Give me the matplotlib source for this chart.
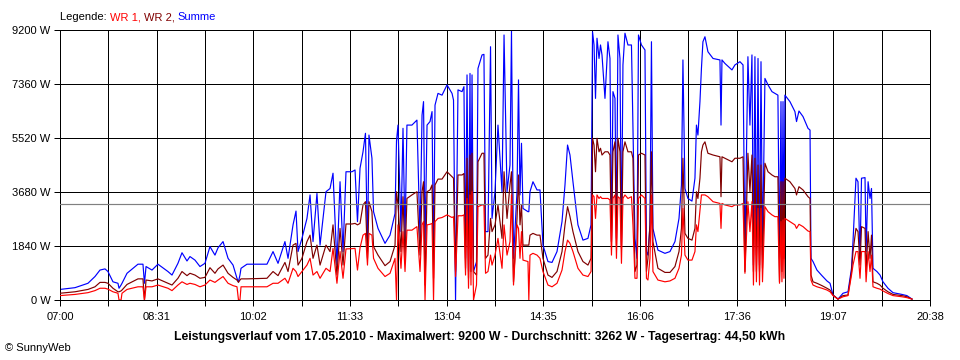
import matplotlib
matplotlib.use("Agg")
import matplotlib.pyplot as plt
import numpy as np

plt.rcParams['font.family'] = ['Liberation Sans', 'DejaVu Sans']

# ---- data: minutes after 07:00, power in W ----
minutes = [
    0, 14.1, 26.3, 32.9, 37.6, 42.3, 45.1, 49.8, 54.5, 55.5,
    57.4, 58.3, 63.0, 73.3, 78.0, 79.4, 80.9, 86.5, 92.1, 101.5,
    105.3, 110.9, 114.7, 119.4, 122.2, 126.9, 131.6, 136.3, 141.0, 145.7,
    148.6, 153.3, 158.0, 162.7, 166.4, 167.8, 169.2, 170.2, 175.8, 194.6,
    200.3, 205.0, 211.5, 214.4, 219.1, 221.9, 223.8, 227.5, 232.2, 235.1,
    237.9, 241.6, 244.5, 250.1, 253.9, 256.7, 260.4, 263.3, 266.1, 268.9,
    274.5, 277.4, 279.7, 282.1, 284.9, 287.2, 289.1, 290.5, 293.3, 294.8,
    299.0, 305.6, 310.3, 315.0, 316.4, 317.8, 320.6, 322.5, 324.4, 326.2,
    330.9, 335.6, 338.5, 340.4, 341.8, 343.2, 345.1, 347.9, 349.8, 351.2,
    352.6, 355.4, 359.2, 363.9, 368.6, 370.0, 371.9, 374.2, 378.0, 379.8,
    381.3, 382.7, 384.1, 385.5, 386.4, 387.4, 388.8, 391.6, 393.0, 396.8,
    398.6, 400.1, 402.4, 404.8, 406.2, 409.0, 411.8, 415.6, 417.5, 420.3,
    423.1, 424.5, 426.4, 429.7, 431.1, 432.5, 433.9, 435.3, 440.0, 440.8,
    441.9, 444.7, 448.5, 451.3, 454.1, 458.8, 462.6, 467.3, 472.0, 474.8,
    477.2, 479.5, 482.3, 487.0, 491.7, 496.4, 499.3, 500.7, 502.1, 503.5,
    504.9, 506.8, 508.2, 509.6, 512.4, 515.2, 517.1, 518.5, 519.9, 521.8,
    523.2, 524.6, 526.5, 527.9, 529.3, 531.2, 534.0, 537.3, 538.7, 540.6,
    542.5, 543.9, 546.7, 550.0, 551.4, 552.8, 554.7, 556.1, 557.5, 562.2,
    568.8, 573.5, 578.2, 582.0, 584.3, 585.7, 587.6, 590.4, 594.2, 597.0,
    598.4, 599.8, 601.7, 603.1, 604.5, 606.4, 609.2, 614.0, 620.5, 621.5,
    622.4, 625.2, 631.8, 634.6, 639.3, 642.2, 644.0, 646.8, 648.7, 650.6,
    652.0, 653.4, 654.8, 656.3, 657.7, 659.1, 660.5, 662.8, 665.7, 669.4,
    672.2, 675.0, 676.5, 677.9, 678.8, 679.8, 680.7, 681.6, 686.3, 691.0,
    692.5, 694.8, 698.6, 703.3, 705.2, 706.1, 708.0, 711.7, 716.4, 721.1,
    724.0, 726.8, 731.5, 736.2, 740.9, 744.2, 745.6, 748.4, 750.3, 752.2,
    753.6, 756.9, 757.9, 759.8, 761.6, 763.0, 764.4, 768.1, 771.0, 773.8,
    778.5, 783.2, 791.6, 796.3, 801.1]

summe = [
    360, 420, 570, 800, 1020, 1060, 970, 620, 570, 400,
    510, 570, 910, 1220, 1220, 570, 1140, 1020, 1220, 970,
    850, 1250, 1610, 1330, 1480, 1360, 1140, 1250, 1820, 1530,
    1780, 1990, 1420, 1190, 740, 620, 850, 1080, 1220, 1220,
    1650, 1250, 1990, 1420, 2560, 3030, 1650, 2100, 2780, 3580,
    1990, 3630, 1870, 3690, 3800, 4320, 1190, 4030, 1650, 4370,
    4370, 4430, 2670, 4490, 5050, 5680, 1650, 5620, 4830, 3010,
    2440, 1930, 2210, 2950, 5420, 5960, 2330, 5850, 2100, 5960,
    5960, 6130, 2100, 6300, 6760, 1870, 5960, 6080, 6420, 1420,
    6640, 7040, 6980, 7330, 7040, 6810, 0, 7160, 7100, 7270,
    1420, 7670, 970, 7720, 1420, 7670, 970, 1300, 7890, 8350,
    8370, 2330, 2330, 8630, 2780, 3690, 5960, 3690, 9030, 3690,
    4600, 9170, 1420, 3690, 7500, 3580, 5340, 3120, 3010, 3010,
    3690, 4030, 3750, 3750, 1870, 1310, 1280, 1650, 2670, 3920,
    5280, 4940, 4030, 2560, 2040, 2100, 2560, 9140, 8690, 6870,
    8920, 8230, 8690, 8350, 6870, 8800, 8230, 1990, 7100, 6870,
    2100, 9030, 8230, 1870, 8010, 9090, 8690, 8690, 5960, 2100,
    1420, 9030, 8690, 8520, 1650, 1530, 2560, 8800, 2440, 1700,
    1590, 1650, 1990, 2780, 3920, 8180, 3800, 3460, 3370, 4150,
    5960, 5620, 6760, 7890, 8800, 8970, 8460, 8230, 8180, 5960,
    8180, 8060, 7840, 8010, 8120, 8010, 1530, 8290, 5960, 8350,
    1190, 8290, 1530, 8230, 1190, 8120, 1530, 7550, 7330, 7100,
    7040, 6980, 1420, 6760, 1420, 6760, 1650, 6980, 6760, 6420,
    6080, 6440, 6250, 5850, 5790, 1420, 1310, 1020, 830, 650,
    570, 170, 30, 230, 280, 1080, 1990, 4150, 4030, 1420,
    4150, 4170, 1650, 4030, 3460, 3800, 1080, 970, 850, 620,
    400, 250, 190, 150, 30]

wr2 = [
    230, 280, 360, 450, 600, 600, 570, 400, 280, 280,
    310, 340, 530, 720, 720, 0, 680, 650, 720, 570,
    510, 740, 970, 830, 910, 850, 740, 770, 1100, 910,
    1060, 1190, 910, 770, 680, 600, 680, 720, 720, 740,
    970, 830, 1280, 970, 1870, 1930, 1190, 1420, 1990, 2210,
    1420, 1870, 1190, 1870, 1650, 2560, 850, 2440, 1190, 2590,
    2590, 2610, 2560, 2610, 3240, 3350, 1420, 3350, 3010, 1820,
    1530, 1170, 1310, 1870, 3690, 3240, 1650, 3520, 1420, 3460,
    3580, 3690, 1530, 3690, 4030, 510, 3690, 3750, 3920, 740,
    3920, 4120, 4120, 4370, 4200, 4150, 970, 4260, 4260, 4310,
    1080, 4830, 740, 4940, 970, 5000, 970, 850, 4710, 5000,
    5000, 1420, 1530, 2780, 2330, 2560, 3240, 2100, 4370, 2780,
    3920, 4370, 620, 2780, 4260, 2560, 3240, 1870, 1870, 1870,
    2210, 2270, 2210, 2210, 1420, 850, 770, 970, 1650, 2560,
    3180, 2840, 2330, 1650, 1310, 1190, 1420, 5510, 5280, 4370,
    5510, 5050, 5170, 4940, 5050, 5050, 4940, 1990, 5050, 5390,
    1870, 5510, 5050, 1760, 5050, 5390, 5050, 5050, 4830, 970,
    1190, 4940, 5000, 4940, 970, 1420, 2560, 5050, 1990, 1080,
    940, 940, 1140, 1650, 2440, 4830, 2270, 2100, 2040, 2440,
    3690, 3460, 4150, 5050, 5280, 5390, 5000, 4940, 4880, 3520,
    4880, 4830, 4710, 4830, 4830, 4880, 970, 5000, 3690, 4940,
    970, 4830, 970, 4600, 970, 4600, 1080, 4660, 4370, 4260,
    4200, 4200, 620, 4030, 970, 4030, 1420, 4150, 4030, 3800,
    3580, 3860, 3750, 3520, 3460, 850, 620, 570, 490, 400,
    340, 170, 30, 150, 170, 970, 1650, 2440, 2330, 1190,
    2500, 2440, 970, 2330, 1420, 2210, 620, 570, 510, 400,
    280, 190, 150, 110, 30]

wr1 = [
    150, 190, 250, 320, 400, 400, 370, 280, 230, 0,
    0, 230, 360, 450, 450, 0, 450, 450, 510, 400,
    320, 510, 620, 530, 570, 530, 450, 510, 680, 600,
    680, 800, 570, 490, 450, 0, 0, 450, 450, 450,
    570, 570, 740, 570, 1080, 970, 800, 970, 1190, 1420,
    850, 970, 740, 1080, 970, 1760, 570, 1650, 740, 1740,
    1750, 1760, 1020, 1780, 2210, 2270, 1190, 2270, 2210, 1420,
    1080, 800, 910, 1420, 0, 2560, 1080, 2330, 970, 2380,
    2380, 2500, 970, 2560, 2670, 0, 2560, 2580, 2610, 0,
    2670, 2780, 2810, 2900, 2810, 2840, 800, 2870, 2870, 2900,
    850, 3460, 400, 3580, 510, 3690, 0, 510, 3180, 3240,
    3240, 910, 970, 1530, 1190, 1530, 2100, 1080, 2560, 1530,
    1990, 3580, 510, 2560, 2440, 1420, 2330, 1360, 1310, 0,
    1530, 1590, 1530, 1420, 970, 510, 450, 570, 1020, 1650,
    2040, 1930, 1650, 1080, 850, 800, 970, 3580, 3520, 2780,
    3580, 3460, 3520, 3460, 3460, 3460, 3410, 1530, 3460, 3580,
    1420, 3520, 3460, 1250, 3460, 3580, 3460, 3520, 2560, 740,
    740, 3460, 3580, 3460, 740, 680, 1420, 3580, 970, 680,
    620, 650, 740, 1080, 1530, 3120, 1530, 1360, 1360, 1650,
    2560, 2330, 3070, 3580, 3580, 3580, 3520, 3350, 3290, 2440,
    3290, 3240, 3180, 3240, 3240, 3290, 910, 3350, 2330, 3350,
    510, 3240, 620, 3120, 510, 3120, 620, 3180, 3010, 2900,
    2840, 2840, 570, 2670, 620, 2730, 740, 2780, 2670, 2560,
    2440, 2580, 2500, 2350, 2330, 680, 510, 450, 400, 340,
    280, 150, 30, 110, 150, 850, 1190, 1650, 1650, 740,
    1650, 1650, 620, 1650, 970, 1530, 450, 400, 370, 310,
    220, 150, 110, 80, 30]

average_w = 3262
total_minutes = 818  # 07:00 .. 20:38
x_labels = ["07:00", "08:31", "10:02", "11:33", "13:04",
            "14:35", "16:06", "17:36", "19:07", "20:38"]
y_values = [0, 1840, 3680, 5520, 7360, 9200]
title = ("Leistungsverlauf vom 17.05.2010 - Maximalwert: 9200 W - "
         "Durchschnitt: 3262 W - Tagesertrag: 44,50 kWh")
legend_parts = [("Legende: ", "black"), ("WR 1, ", "#ff0000"),
                ("WR 2, ", "#800000"), ("Summe", "#0000ff")]

# ---- figure ----
W, H = 960, 360
fig = plt.figure(figsize=(W / 100, H / 100), dpi=100)
fig.patch.set_facecolor("white")
ax = fig.add_axes([60 / W, 1 - 300 / H, 870 / W, 270 / H])
ax.set_xlim(0, total_minutes)
ax.set_ylim(0, 9200)

px = 0.72
n = len(x_labels) - 1
xt = np.arange(2 * n + 1) * total_minutes / (2 * n)
ax.set_xticks(xt)
ax.set_xticklabels([x_labels[i // 2] if i % 2 == 0 else "" for i in range(len(xt))])
ax.set_yticks(y_values)
ax.set_yticklabels([f"{v} W" for v in y_values])
ax.tick_params(axis="both", length=4, width=px, color="black", labelsize=8, pad=3)
ax.tick_params(axis="x", pad=5)
ax.grid(True, color="black", linewidth=px, zorder=0)
for s in ax.spines.values():
    s.set_linewidth(px)
    s.set_color("black")
ax.set_axisbelow(True)

ax.plot(minutes, summe, color="#0000ff", linewidth=0.85, zorder=2)
ax.plot(minutes, wr2, color="#800000", linewidth=0.85, zorder=3)
ax.plot(minutes, wr1, color="#ff0000", linewidth=0.85, zorder=4)
ax.axhline(average_w, color="#808080", linewidth=0.85, zorder=5)

# multi-coloured legend line at the top
first_txt, first_col = legend_parts[0]
last = fig.text(60 / W, 1 - 17 / H, first_txt, color=first_col, fontsize=8,
                ha="left", va="center")
for txt, col in legend_parts[1:]:
    last = ax.annotate(txt, xy=(1, 0), xycoords=last, color=col, fontsize=8,
                       ha="left", va="bottom", annotation_clip=False)

fig.text(480 / W, 1 - 337 / H, title, fontsize=8.8, fontweight="bold",
         ha="center", va="center")
fig.text(5 / W, 1 - 348 / H, "\u00a9 SunnyWeb", fontsize=8, ha="left", va="center")

fig.savefig("out.png", dpi=100, facecolor="white")
